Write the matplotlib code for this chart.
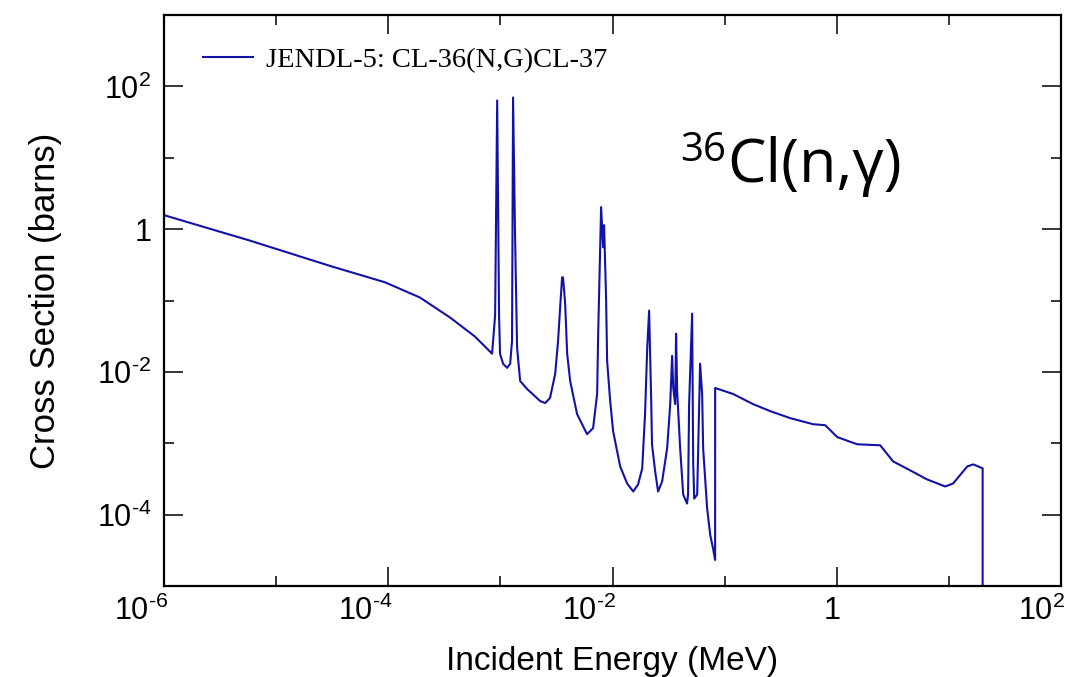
import matplotlib
matplotlib.use("Agg")
import matplotlib.pyplot as plt
import matplotlib.transforms as mtransforms
from matplotlib.ticker import FixedLocator, NullFormatter

plt.rcParams["font.family"] = ["Liberation Sans", "DejaVu Sans"]
plt.rcParams["mathtext.fontset"] = "custom"
plt.rcParams["mathtext.rm"] = "Liberation Sans"
plt.rcParams["mathtext.default"] = "regular"

# ── data (JENDL-5, 36Cl(n,g)) ────────────────────────────────────────
energy_mev = [
    1.0e-6, 5.85e-6, 3.03e-5, 9.35e-5, 1.92e-4, 3.56e-4, 5.94e-4, 8.43e-4,
    8.97e-4, 9.36e-4, 9.73e-4, 9.93e-4, 1.057e-3, 1.148e-3, 1.222e-3, 1.27e-3,
    1.297e-3, 1.352e-3, 1.409e-3, 1.50e-3, 1.73e-3, 2.26e-3, 2.51e-3, 2.77e-3,
    3.08e-3, 3.27e-3, 3.41e-3, 3.55e-3, 3.62e-3, 3.78e-3, 3.94e-3, 4.19e-3,
    4.83e-3, 5.93e-3, 6.71e-3, 7.29e-3, 7.45e-3, 7.91e-3, 8.24e-3, 8.41e-3,
    8.77e-3, 8.95e-3, 9.53e-3, 1.012e-2, 1.17e-2, 1.35e-2, 1.53e-2, 1.69e-2,
    1.84e-2, 1.95e-2, 2.04e-2, 2.12e-2, 2.21e-2, 2.25e-2, 2.40e-2, 2.55e-2,
    2.77e-2, 3.07e-2, 3.27e-2, 3.40e-2, 3.48e-2, 3.62e-2, 3.69e-2, 3.77e-2,
    4.01e-2, 4.27e-2, 4.62e-2, 4.72e-2, 4.82e-2, 5.13e-2, 5.24e-2, 5.35e-2,
    5.69e-2, 5.81e-2, 6.04e-2, 6.30e-2, 6.43e-2, 6.98e-2, 7.43e-2, 7.89e-2,
    8.22e-2, 8.23e-2, 0.119, 0.179, 0.255, 0.384, 0.615, 0.789,
    1.01, 1.52, 2.44, 3.18, 4.52, 6.40, 9.27, 10.9,
    14.6, 16.5, 20.0, 20.0,
]
xs_barns = [
    1.57, 0.690, 0.305, 0.180, 0.110, 0.0577, 0.0312, 0.0180,
    0.0615, 63.5, 0.0615, 0.0179, 0.0130, 0.01138, 0.0130, 0.0273,
    70.0, 0.771, 0.0218, 7.46e-3, 5.76e-3, 3.91e-3, 3.66e-3, 4.31e-3,
    9.37e-3, 0.0273, 0.0797, 0.211, 0.211, 0.0907, 0.0179, 7.46e-3,
    2.56e-3, 1.34e-3, 1.63e-3, 4.90e-3, 0.0343, 2.04, 0.557, 1.14,
    0.100, 0.0143, 3.91e-3, 1.48e-3, 4.74e-4, 2.73e-4, 2.11e-4, 2.65e-4,
    4.45e-4, 2.56e-3, 0.0218, 0.0723, 4.31e-3, 9.68e-4, 4.03e-4, 2.11e-4,
    2.92e-4, 8.51e-4, 3.54e-3, 0.0168, 5.95e-3, 3.54e-3, 0.0343, 5.40e-3,
    8.51e-4, 1.91e-4, 1.43e-4, 1.91e-4, 3.54e-3, 0.0656, 5.57e-4, 1.68e-4,
    1.91e-4, 8.51e-4, 0.0130, 4.90e-3, 8.51e-4, 1.22e-4, 5.23e-5, 3.32e-5,
    2.32e-5, 5.95e-3, 4.90e-3, 3.54e-3, 2.82e-3, 2.25e-3, 1.85e-3, 1.79e-3,
    1.22e-3, 9.68e-4, 9.37e-4, 5.57e-4, 4.17e-4, 3.11e-4, 2.48e-4, 2.73e-4,
    4.74e-4, 5.06e-4, 4.45e-4, 1e-9,
]
series_label = "JENDL-5: CL-36(N,G)CL-37"

x_major = [1e-6, 1e-4, 1e-2, 1, 1e2]
x_major_labels = [r"$10^{\text{-}6}$", r"$10^{\text{-}4}$", r"$10^{\text{-}2}$",
                  "1", r"$10^{2}$"]
x_minor = [1e-5, 1e-3, 1e-1, 10]
y_major = [1e-4, 1e-2, 1, 1e2]
y_major_labels = [r"$10^{\text{-}4}$", r"$10^{\text{-}2}$", "1", r"$10^{2}$"]
y_minor = [1e-3, 1e-1, 10]

fig = plt.figure(figsize=(10.7, 6.77), dpi=100)
ax = fig.add_axes([0.1533, 0.1344, 0.8383, 0.8434])

ax.plot(energy_mev, xs_barns, color="#1212a8", lw=1.5, label=series_label)
ax.set_xscale("log")
ax.set_yscale("log")
ax.set_xlim(1e-6, 1e2)
ax.set_ylim(1e-5, 1e3)

ax.xaxis.set_major_locator(FixedLocator(x_major))
ax.xaxis.set_minor_locator(FixedLocator(x_minor))
ax.set_xticklabels(x_major_labels)
ax.xaxis.set_minor_formatter(NullFormatter())
ax.yaxis.set_major_locator(FixedLocator(y_major))
ax.yaxis.set_minor_locator(FixedLocator(y_minor))
ax.set_yticklabels(y_major_labels)
ax.yaxis.set_minor_formatter(NullFormatter())

ax.tick_params(which="both", direction="in", top=True, right=True,
               width=1.1, labelsize=22, colors="black")
ax.tick_params(which="major", length=14)
ax.tick_params(which="minor", length=7.5)
ax.tick_params(axis="x", which="major", pad=7)
ax.tick_params(axis="y", which="major", pad=9)
for sp in ax.spines.values():
    sp.set_linewidth(1.6)

# x labels in the reference end just right of their tick
shift = mtransforms.ScaledTranslation(0.04, 0, fig.dpi_scale_trans)
for lbl in ax.get_xticklabels():
    lbl.set_horizontalalignment("right")
    lbl.set_transform(lbl.get_transform() + shift)

ax.set_xlabel("Incident Energy (MeV)", fontsize=24, labelpad=14)
ax.set_ylabel("Cross Section (barns)", fontsize=25, labelpad=25)

ax.legend(loc="upper left", bbox_to_anchor=(0.0435, 0.944), frameon=False,
          borderpad=0, borderaxespad=0, handlelength=1.75, handletextpad=0.45,
          prop={"family": ["Liberation Serif", "DejaVu Serif"], "size": 20.5})

# reaction tag
ax.text(0.6276, 0.7075, "Cl(n,γ)", transform=ax.transAxes, ha="left",
        va="baseline", fontsize=44, family=["Open Sans", "DejaVu Sans"])
ax.text(0.6265, 0.745, "36", transform=ax.transAxes, ha="right",
        va="baseline", fontsize=29, family=["Open Sans", "DejaVu Sans"])

fig.savefig("out.png", dpi=100)
